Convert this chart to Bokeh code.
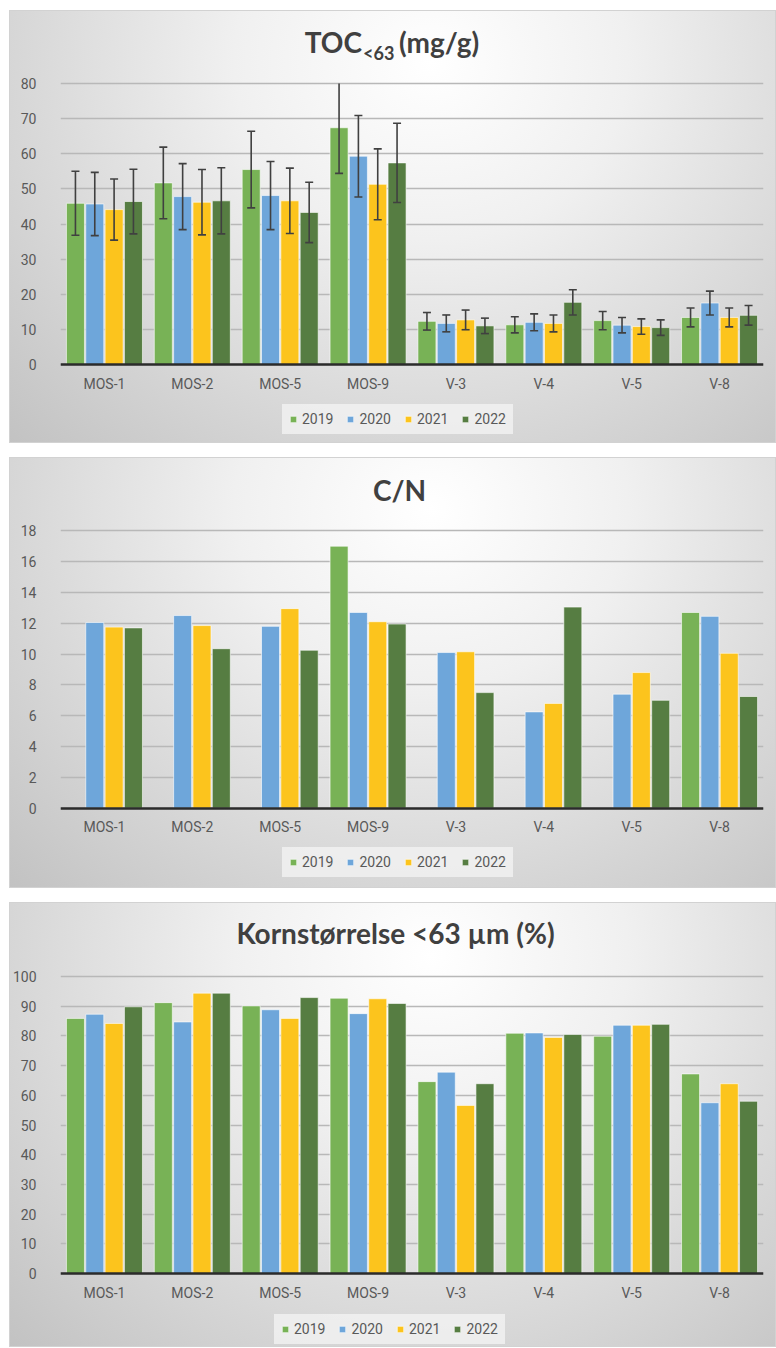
import numpy as np
from bokeh.plotting import figure
from bokeh.models import (ColumnDataSource, Legend, LegendItem, Label, FactorRange,
                          Range1d, FixedTicker)
from bokeh.transform import dodge
from bokeh.layouts import column
from bokeh.embed import file_html
from bokeh.resources import INLINE

nan = float("nan")

categories = ["MOS-1", "MOS-2", "MOS-5", "MOS-9", "V-3", "V-4", "V-5", "V-8"]
years = ["2019", "2020", "2021", "2022"]

# TOC <63 (mg/g)
toc_2019 = [45.9, 51.7, 55.5, 67.4, 12.3, 11.3, 12.5, 13.4]
toc_2020 = [45.7, 47.8, 48.1, 59.3, 11.7, 12.0, 11.2, 17.5]
toc_2021 = [44.1, 46.2, 46.6, 51.3, 12.7, 11.7, 10.8, 13.4]
toc_2022 = [46.4, 46.6, 43.3, 57.4, 11.0, 17.7, 10.5, 14.0]
toc_err_2019 = [9.1, 10.2, 10.9, 13.0, 2.5, 2.3, 2.6, 2.7]
toc_err_2020 = [9.0, 9.4, 9.7, 11.6, 2.4, 2.4, 2.2, 3.4]
toc_err_2021 = [8.7, 9.3, 9.3, 10.1, 2.8, 2.4, 2.2, 2.7]
toc_err_2022 = [9.2, 9.4, 8.6, 11.3, 2.2, 3.6, 2.2, 2.8]
toc_ticks = [0, 10, 20, 30, 40, 50, 60, 70, 80]

# C/N
cn_2019 = [nan, nan, nan, 17.0, nan, nan, nan, 12.7]
cn_2020 = [12.05, 12.5, 11.8, 12.7, 10.1, 6.25, 7.4, 12.45]
cn_2021 = [11.75, 11.85, 12.95, 12.1, 10.15, 6.8, 8.8, 10.05]
cn_2022 = [11.7, 10.35, 10.25, 11.95, 7.5, 13.05, 7.0, 7.25]
cn_ticks = [0, 2, 4, 6, 8, 10, 12, 14, 16, 18]

# Kornstørrelse <63 µm (%)
grain_2019 = [85.9, 91.2, 90.1, 92.7, 64.6, 80.9, 79.9, 67.2]
grain_2020 = [87.3, 84.7, 88.8, 87.5, 67.8, 81.0, 83.6, 57.5]
grain_2021 = [84.2, 94.4, 85.9, 92.5, 56.6, 79.5, 83.6, 63.9]
grain_2022 = [89.8, 94.4, 92.9, 90.9, 63.9, 80.5, 83.9, 58.0]
grain_ticks = [0, 10, 20, 30, 40, 50, 60, 70, 80, 90, 100]

colors = ["#78b256", "#6ea6da", "#fcc41d", "#567d42"]
offsets = [-0.33, -0.11, 0.11, 0.33]

TICK_FONT = "Roboto"
TITLE_FONT = "Lato"
PANEL_BG = ("radial-gradient(ellipse farthest-corner at 55% 12%, #ffffff 0%, "
            "#f0f0f0 33%, #d8d8d8 68%, #c2c2c2 100%)")
FIG_W = 767


def make_panel(values, errors, ticks, height, left, top_px, zero_px, legend_loc, titles):
    top_tick = ticks[-1]
    scale = (zero_px - top_px) / top_tick          # px per data unit
    y_end = top_tick + top_px / scale
    y_start = -(height - zero_px) / scale
    p = figure(width=FIG_W, height=height, output_backend="svg", toolbar_location=None,
               x_range=FactorRange(*categories), y_range=Range1d(y_start, y_end),
               min_border_left=left, min_border_right=13,
               min_border_top=0, min_border_bottom=0,
               background_fill_color=None, border_fill_color=None,
               outline_line_color=None)
    p.styles = {"background": PANEL_BG, "box-shadow": "inset 0 0 0 1px #d2d2d2"}

    data = {"cat": categories}
    for yr, vals in zip(years, values):
        data["y" + yr] = np.array(vals, dtype=float)
    if errors is not None:
        for yr, vals, errs in zip(years, values, errors):
            v = np.array(vals, dtype=float)
            e = np.array(errs, dtype=float)
            hi = v + e
            data["lo" + yr] = v - e
            data["hi" + yr] = np.minimum(hi, top_tick)
            data["cap" + yr] = np.where(hi > top_tick, nan, hi)
    src = ColumnDataSource(data)

    renderers = []
    for yr, col, off in zip(years, colors, offsets):
        r = p.vbar(x=dodge("cat", off, range=p.x_range), top="y" + yr, bottom=0,
                   width=0.205, source=src, fill_color=col, line_color="white",
                   line_alpha=0.6, line_width=1)
        renderers.append(r)
    if errors is not None:
        for yr, off in zip(years, offsets):
            xx = dodge("cat", off, range=p.x_range)
            p.segment(x0=xx, y0="lo" + yr, x1=xx, y1="hi" + yr, source=src,
                      line_color="#404040", line_width=1.6)
            for key in ("lo", "cap"):
                p.scatter(x=xx, y=key + yr, source=src, marker="dash", size=8,
                          line_color="#404040", line_width=1.6)

    p.yaxis.ticker = FixedTicker(ticks=ticks)
    p.yaxis.axis_line_color = None
    p.yaxis.major_tick_line_color = None
    p.yaxis.minor_tick_line_color = None
    p.yaxis.major_label_standoff = 18
    p.xaxis.fixed_location = 0
    p.xaxis.axis_line_color = "#2b2b2b"
    p.xaxis.axis_line_width = 2.3
    p.xaxis.major_tick_line_color = None
    p.xaxis.minor_tick_line_color = None
    p.xaxis.major_label_standoff = 5
    for ax in (p.xaxis, p.yaxis):
        ax.major_label_text_font = TICK_FONT
        ax.major_label_text_font_size = "14px"
        ax.major_label_text_color = "#595959"
    p.xgrid.visible = False
    p.ygrid.grid_line_color = "#b8b8b8"
    p.ygrid.grid_line_width = 1.6

    legend = Legend(items=[LegendItem(label=yr, renderers=[r])
                           for yr, r in zip(years, renderers)],
                    orientation="horizontal", location=legend_loc,
                    label_text_font=TICK_FONT, label_text_font_size="14px",
                    label_text_color="#595959", glyph_width=8, glyph_height=8,
                    label_standoff=5, spacing=13, padding=7, margin=0,
                    background_fill_color="#f4f4f4", background_fill_alpha=0.75,
                    border_line_color="#f4f4f4", border_line_alpha=0.0)
    p.add_layout(legend, "center")

    for (txt, dx, base_px, shift, size, align) in titles:
        y = (zero_px - (base_px - shift)) / scale
        p.add_layout(Label(x=4.0, y=y, x_offset=dx, text=txt,
                           text_font=TITLE_FONT, text_font_style="bold",
                           text_font_size=size, text_color="#404040",
                           text_align=align, text_baseline="alphabetic"))
    return p


p1 = make_panel([toc_2019, toc_2020, toc_2021, toc_2022],
                [toc_err_2019, toc_err_2020, toc_err_2021, toc_err_2022],
                toc_ticks, 433, 43, 73, 354, (222, 9),
                [("TOC", -50, 43.3, 12, "28px", "right"),
                 ("<63", -49, 50, 7.5, "18px", "left"),
                 ("(mg/g)", -13, 43.3, 12, "28px", "left")])

p2 = make_panel([cn_2019, cn_2020, cn_2021, cn_2022], None,
                cn_ticks, 431, 43, 73.3, 350.7, (222, 11),
                [("C/N", -12.5, 44.7, 12, "28px", "center")])

p3 = make_panel([grain_2019, grain_2020, grain_2021, grain_2022], None,
                grain_ticks, 445, 51, 74, 371, (214, 3),
                [("Kornstørrelse <63 µm (%)", -16.5, 42.3, 12, "28px", "center")])

layout = column(p1, p2, p3, spacing=14,
                styles={"margin-top": "10px", "margin-left": "9px"})

open("out.html", "w").write(file_html(layout, INLINE))
